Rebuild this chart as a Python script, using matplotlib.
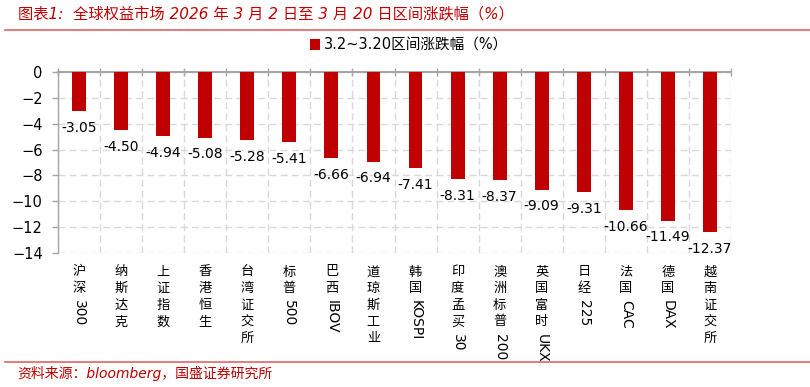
import matplotlib
matplotlib.use("Agg")
import matplotlib.pyplot as plt
import matplotlib.transforms as mtransforms
from matplotlib.lines import Line2D

plt.rcParams['font.family'] = ['DejaVu Sans', 'Noto Sans CJK SC']

# data
markets = ['沪深300', '纳斯达克', '上证指数', '香港恒生', '台湾证交所', '标普500',
           '巴西IBOV', '道琼斯工业', '韩国KOSPI', '印度孟买30', '澳洲标普200',
           '英国富时UKX', '日经225', '法国CAC', '德国DAX', '越南证交所']
changes = [-3.05, -4.50, -4.94, -5.08, -5.28, -5.41, -6.66, -6.94, -7.41,
           -8.31, -8.37, -9.09, -9.31, -10.66, -11.49, -12.37]
y_ticks = [0, -2, -4, -6, -8, -10, -12, -14]
series_name = '3.2~3.20区间涨跌幅（%）'
title = '图表1:  全球权益市场 2026 年 3 月 2 日至 3 月 20 日区间涨跌幅（%）'
source = '资料来源：bloomberg，国盛证券研究所'

red = '#C00000'
grid_col = '#D9D9D9'
axis_col = '#A6A6A6'

fig = plt.figure(figsize=(8.1, 3.87), dpi=100)
ax = fig.add_axes([58 / 810, 1 - 253 / 387, (731 - 58) / 810, (253 - 72) / 387])

x = list(range(len(markets)))
bars = ax.bar(x, changes, width=0.33, color=red, label=series_name, zorder=3)

ax.set_xlim(-0.5, len(markets) - 0.5)
ax.set_ylim(-14, 0)
ax.set_yticks(y_ticks)
ax.tick_params(axis='y', direction='out', length=4, width=1, color=axis_col,
               labelsize=10.5, pad=7)

# category boundaries as ticks on the zero line
ax.xaxis.tick_top()
ax.set_xticks([i - 0.5 for i in range(len(markets) + 1)])
ax.tick_params(axis='x', direction='inout', length=6, width=1, color=axis_col,
               labeltop=False, labelbottom=False)

ax.grid(True, color=grid_col, linestyle=(0, (5, 3)), linewidth=1, zorder=0)
ax.set_axisbelow(True)
for s in ['bottom', 'right']:
    ax.spines[s].set_visible(False)
ax.spines['top'].set_color(axis_col)
ax.spines['top'].set_linewidth(1.5)
ax.spines['left'].set_color(axis_col)
ax.spines['left'].set_linewidth(1)

# value labels under bars
for xi, v in zip(x, changes):
    ax.annotate(f'{v:.2f}', xy=(xi, v), xytext=(0, -7), textcoords='offset points',
                ha='center', va='top', fontsize=10)

# vertical category labels: CJK stacked upright, Latin rotated
trans = mtransforms.blended_transform_factory(ax.transData, ax.transAxes)
for xi, name in zip(x, markets):
    cjk = ''.join(c for c in name if ord(c) > 0x2E80)
    latin = name[len(cjk):]
    for k, c in enumerate(cjk):
        ax.annotate(c, xy=(xi, 0), xycoords=trans, xytext=(0, -9 - k * 12),
                    textcoords='offset points', ha='center', va='top',
                    fontsize=9.5, family='Noto Sans CJK SC', annotation_clip=False)
    if latin:
        ax.annotate(latin, xy=(xi, 0), xycoords=trans,
                    xytext=(0, -9 - len(cjk) * 12 - 1), textcoords='offset points',
                    ha='center', va='top', rotation=-90, fontsize=10,
                    annotation_clip=False)

fig.legend(handles=[bars], labels=[series_name], loc='center',
           bbox_to_anchor=(0.505, 1 - 45 / 387), frameon=False, fontsize=10.5,
           handlelength=0.7, handleheight=0.7, handletextpad=0.3)

# title, source and separators
fig.text(18 / 810, 1 - 14 / 387, title, color=red, fontsize=11, style='italic',
         va='center', ha='left')
fig.text(17 / 810, 1 - 373 / 387, source, color=red, fontsize=10, style='italic',
         va='center', ha='left')
for yy in [30, 362]:
    fig.add_artist(Line2D([5 / 810, 1], [1 - yy / 387] * 2, transform=fig.transFigure,
                          color='#E06666', linewidth=1.2))

fig.savefig('out.png', dpi=100)
